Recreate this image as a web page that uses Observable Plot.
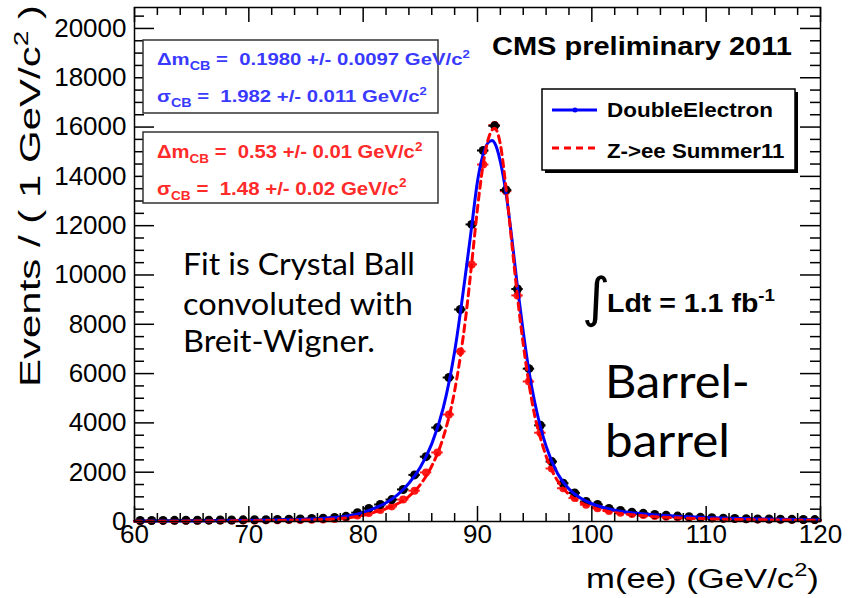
<!DOCTYPE html>
<html><head><meta charset="utf-8">
<script src="https://cdn.jsdelivr.net/npm/d3@7"></script>
<script src="https://cdn.jsdelivr.net/npm/@observablehq/plot@0.6"></script>
<style>body{margin:0;background:#fff}svg{display:block}text{white-space:pre}</style>
</head><body><div id="chart"></div>
<script>
// ---- data ----
const massBins = [60.5,61.5,62.5,63.5,64.5,65.5,66.5,67.5,68.5,69.5,70.5,71.5,72.5,73.5,74.5,75.5,76.5,77.5,78.5,79.5,80.5,81.5,82.5,83.5,84.5,85.5,86.5,87.5,88.5,89.5,90.5,91.5,92.5,93.5,94.5,95.5,96.5,97.5,98.5,99.5,100.5,101.5,102.5,103.5,104.5,105.5,106.5,107.5,108.5,109.5,110.5,111.5,112.5,113.5,114.5,115.5,116.5,117.5,118.5,119.5];
const dataCounts = [40,42,45,48,50,52,55,60,62,66,70,75,85,95,105,120,135,165,210,360,530,690,890,1300,1890,2630,3810,5840,8600,12050,15050,16050,13450,9430,6200,3900,2430,1550,1160,810,690,530,450,380,330,285,250,220,195,170,150,135,125,115,105,100,95,88,82,78];
const mcCounts = [25,27,28,30,32,34,36,38,40,42,45,48,52,58,65,75,85,100,150,240,340,470,610,890,1250,1990,2800,4340,6900,10430,14480,16080,13400,9170,5680,3600,2150,1350,950,680,540,430,360,300,260,225,195,170,150,135,120,110,100,92,85,78,72,68,62,58];
const dataFitMass = [60,65,70,73,75,77,78,79,80,81,82,83,84,85,86,87,88,89,89.5,90,90.5,91,91.3,91.5,92,92.5,93,93.5,94,94.5,95,95.5,96,97,98,99,100,101,102,104,106,108,110,115,120];
const dataFit = [15,25,45,70,95,145,185,250,370,540,760,1080,1550,2200,3150,4600,6900,10200,12000,13800,14900,15400,15450,15350,14600,13300,11500,9500,7700,6100,4850,3850,3050,1950,1320,950,720,570,460,330,250,200,160,100,65];
const mcFitMass = [60,70,75,78,80,81,82,83,84,85,86,87,88,89,89.5,90,90.5,91,91.5,92,92.5,93,93.5,94,94.5,95,95.5,96,97,98,99,100,101,102,104,106,108,110,115,120];
const mcFit = [10,30,60,120,250,380,520,720,1020,1500,2250,3400,5300,8400,10500,12700,14500,15600,15950,15300,13500,11300,9100,7200,5600,4300,3400,2650,1650,1100,780,580,450,360,250,180,140,110,70,45];
const yMajorTicks = [0,2000,4000,6000,8000,10000,12000,14000,16000,18000,20000];
const yMinorTicks = [500,1000,1500,2500,3000,3500,4500,5000,5500,6500,7000,7500,8500,9000,9500,10500,11000,11500,12500,13000,13500,14500,15000,15500,16500,17000,17500,18500,19000,19500,20500];
const xMajorTicks = [60,70,80,90,100,110,120];
const xMinorTicks = [62,64,66,68,72,74,76,78,82,84,86,88,92,94,96,98,102,104,106,108,112,114,116,118];
const seriesNames = ["DoubleElectron","Z->ee Summer11"];

const dataRows = massBins.map((m,i)=>({m, n:dataCounts[i]}));
const mcRows = massBins.map((m,i)=>({m, n:mcCounts[i]}));
const dataFitRows = dataFitMass.map((m,i)=>({m, n:dataFit[i]}));
const mcFitRows = mcFitMass.map((m,i)=>({m, n:mcFit[i]}));

const W=848,H=598,mL=134,mR=28,mT=7,mB=77;
const fw=W-mL-mR, fh=H-mT-mB;
const SANS = "'Liberation Sans', Arial, Helvetica, sans-serif";
const CAL = "Lato, 'Open Sans', sans-serif";

const plot = Plot.plot({
  width:W, height:H, marginLeft:mL, marginRight:mR, marginTop:mT, marginBottom:mB,
  style:{fontFamily:SANS, background:"white", color:"black"},
  x:{domain:[60,120], axis:null},
  y:{domain:[0,20850], axis:null},
  marks:[
    Plot.ruleY(mcRows,{y:"n", x1:d=>d.m-0.5, x2:d=>d.m+0.5, stroke:"#ff1a1a", strokeWidth:2}),
    Plot.dot(mcRows,{x:"m", y:"n", r:4, fill:"#ff1a1a", stroke:"none"}),
    Plot.ruleY(dataRows,{y:"n", x1:d=>d.m-0.5, x2:d=>d.m+0.5, stroke:"black", strokeWidth:2}),
    Plot.ruleX(dataRows,{x:"m", y1:d=>d.n-Math.sqrt(d.n), y2:d=>d.n+Math.sqrt(d.n), stroke:"black", strokeWidth:2}),
    Plot.dot(dataRows,{x:"m", y:"n", r:4.5, fill:"black", stroke:"none"}),
    Plot.line(dataFitRows,{x:"m", y:"n", stroke:"#0000ff", strokeWidth:3, curve:"monotone-x"}),
    Plot.line(mcFitRows,{x:"m", y:"n", stroke:"#ff0000", strokeWidth:3, strokeDasharray:"7,5", curve:"monotone-x"}),
    // inward ticks
    Plot.tickY(yMajorTicks,{y:d=>d, insetRight:fw-20, stroke:"black", strokeWidth:1.5}),
    Plot.tickY(yMinorTicks.filter(v=>v<=20850),{y:d=>d, insetRight:fw-10, stroke:"black", strokeWidth:1.5}),
    Plot.tickY(yMajorTicks,{y:d=>d, insetLeft:fw-20, stroke:"black", strokeWidth:1.5}),
    Plot.tickY(yMinorTicks.filter(v=>v<=20850),{y:d=>d, insetLeft:fw-10, stroke:"black", strokeWidth:1.5}),
    Plot.tickX(xMajorTicks,{x:d=>d, insetTop:fh-15, stroke:"black", strokeWidth:1.5}),
    Plot.tickX(xMinorTicks,{x:d=>d, insetTop:fh-8, stroke:"black", strokeWidth:1.5}),
    Plot.tickX(xMajorTicks,{x:d=>d, insetBottom:fh-15, stroke:"black", strokeWidth:1.5}),
    Plot.tickX(xMinorTicks,{x:d=>d, insetBottom:fh-8, stroke:"black", strokeWidth:1.5}),
    Plot.frame({stroke:"black", strokeWidth:1.5}),
    Plot.text(yMajorTicks,{y:d=>d, text:d=>String(d), frameAnchor:"left", dx:-8, textAnchor:"end", fontSize:26, fill:"black"}),
    Plot.text(xMajorTicks,{x:d=>d, text:d=>String(d), frameAnchor:"bottom", dy:3, lineAnchor:"top", fontSize:26, fill:"black"})
  ]
});
document.getElementById("chart").appendChild(plot);
const svg = d3.select(plot);

function addText(html, o){
  const t = svg.append("text")
    .attr("text-anchor","start")
    .attr("font-family", o.family||SANS).attr("font-size", o.size)
    .attr("font-weight", o.weight||"normal").attr("fill", o.color||"black")
    .html(html);
  const w = t.node().getBBox().width;
  const s = o.width ? o.width/w : 1;
  t.attr("transform", `translate(${o.x},${o.y})` + (o.rotate?` rotate(${o.rotate})`:"") + ` scale(${s},1)`);
  return t;
}

// parameter boxes
svg.append("rect").attr("x",143).attr("y",40).attr("width",295).attr("height",73).attr("fill","white").attr("stroke","#333").attr("stroke-width",1.5);
svg.append("rect").attr("x",143).attr("y",132).attr("width",295).attr("height",71).attr("fill","white").attr("stroke","#333").attr("stroke-width",1.5);
const BLUE="#3a3aff", RED="#ff2a2a";
addText('Δm<tspan dy="5" font-size="12">CB</tspan><tspan dy="-5"> =  0.1980 +/- 0.0097 GeV/c</tspan><tspan dy="-7" font-size="11">2</tspan>',{x:157,y:65,size:17,weight:"bold",color:BLUE,width:313});
addText('σ<tspan dy="5" font-size="12">CB</tspan><tspan dy="-5"> =  1.982 +/- 0.011 GeV/c</tspan><tspan dy="-7" font-size="11">2</tspan>',{x:157,y:102,size:17,weight:"bold",color:BLUE,width:270});
addText('Δm<tspan dy="5" font-size="12">CB</tspan><tspan dy="-5"> =  0.53 +/- 0.01 GeV/c</tspan><tspan dy="-7" font-size="12">2</tspan>',{x:157,y:158,size:18,weight:"bold",color:RED,width:266});
addText('σ<tspan dy="5" font-size="12">CB</tspan><tspan dy="-5"> =  1.48 +/- 0.02 GeV/c</tspan><tspan dy="-8" font-size="12">2</tspan>',{x:157,y:195,size:18,weight:"bold",color:RED,width:250});

// legend
svg.append("rect").attr("x",545).attr("y",92).attr("width",253).attr("height",81).attr("fill","black");
svg.append("rect").attr("x",542).attr("y",89).attr("width",253).attr("height",81).attr("fill","white").attr("stroke","black").attr("stroke-width",1.5);
svg.append("line").attr("x1",552).attr("x2",597).attr("y1",110).attr("y2",110).attr("stroke","#0000ff").attr("stroke-width",3);
svg.append("circle").attr("cx",575).attr("cy",110).attr("r",2.5).attr("fill","#0000ff");
svg.append("line").attr("x1",552).attr("x2",600).attr("y1",148).attr("y2",148).attr("stroke","#ff0000").attr("stroke-width",3).attr("stroke-dasharray","7,5");
addText(seriesNames[0],{x:607,y:117,size:21,weight:"bold",width:166});
addText(seriesNames[1],{x:607,y:158,size:21,weight:"bold",width:178});

// labels
addText("CMS preliminary 2011",{x:492,y:55,size:26,weight:"bold",width:300});
addText("∫",{x:582,y:316,size:54,family:"'DejaVu Sans', sans-serif"});
addText('Ldt = 1.1 fb<tspan dy="-11" font-size="17">-1</tspan>',{x:607,y:312,size:26,weight:"bold",width:168});
addText("Fit is Crystal Ball",{x:183,y:275,size:30,family:CAL,width:232});
addText("convoluted with",{x:183,y:315,size:30,family:CAL,width:230});
addText("Breit-Wigner.",{x:183,y:352,size:30,family:CAL,width:192});
addText("Barrel-",{x:605,y:398,size:46,family:CAL,width:145});
addText("barrel",{x:605,y:457,size:46,family:CAL,width:125});
addText('Events / ( 1 GeV/c<tspan dy="-12" font-size="20">2</tspan><tspan dy="12"> )</tspan>',{x:40,y:387,size:30,rotate:-90,width:382});
addText('m(ee) (GeV/c<tspan dy="-12" font-size="19">2</tspan><tspan dy="12">)</tspan>',{x:586,y:588,size:28,width:233});
</script>
</body></html>
